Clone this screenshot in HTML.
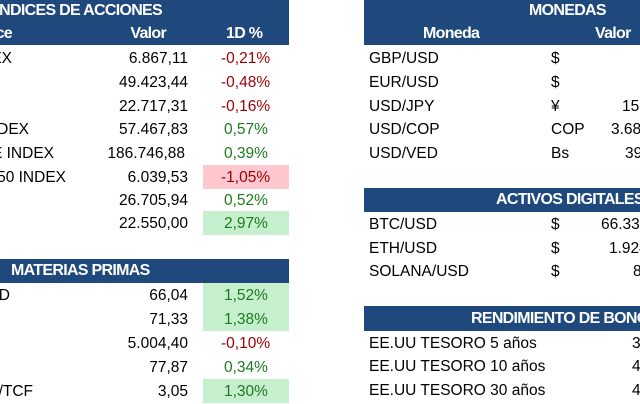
<!DOCTYPE html>
<html><head><meta charset="utf-8"><style>
html,body{margin:0;padding:0;width:640px;height:404px;overflow:hidden;background:#fff;position:relative}
*{box-sizing:border-box}
.t{position:absolute;font-family:"Liberation Sans",sans-serif;font-size:15.5px;color:#000;white-space:nowrap;line-height:24px;height:24px}
.h{position:absolute;background:#1f497d}
.hb{position:absolute;font-family:"Liberation Sans",sans-serif;font-weight:bold;font-size:16px;color:#fff;white-space:nowrap;line-height:22px;letter-spacing:-0.7px}
.r{color:#9c0006}.g{color:#1e7a1e}
.pk{position:absolute;background:#ffc7ce}.gr{position:absolute;background:#c6efce}
</style></head><body>
<div class="h" style="left:0;top:0;width:289px;height:45px"></div>
<div class="hb" style="right:478px;top:0">ÍNDICES DE ACCIONES</div>
<div class="hb" style="right:628px;top:23px">Índice</div>
<div class="hb" style="right:474px;top:23px">Valor</div>
<div class="hb" style="left:226px;top:23px">1D %</div>

<div class="pk" style="left:203px;top:165px;width:86px;height:24px"></div>
<div class="gr" style="left:203px;top:211px;width:86px;height:24px"></div>

<div class="t" style="right:628px;top:47px">CAC 40 INDEX</div>
<div class="t" style="right:452px;top:47px">6.867,11</div>
<div class="t r" style="left:221px;top:47px">-0,21%</div>
<div class="t" style="right:452px;top:71px">49.423,44</div>
<div class="t r" style="left:221px;top:71px">-0,48%</div>
<div class="t" style="right:452px;top:95px">22.717,31</div>
<div class="t r" style="left:221px;top:95px">-0,16%</div>
<div class="t" style="right:611px;top:118px">FTSE INDEX</div>
<div class="t" style="right:452px;top:118px">57.467,83</div>
<div class="t g" style="left:224px;top:118px">0,57%</div>
<div class="t" style="right:586px;top:142px">MERVAL ARGE INDEX</div>
<div class="t" style="right:455px;top:142px">186.746,88</div>
<div class="t g" style="left:224px;top:142px">0,39%</div>
<div class="t" style="right:574px;top:166px">STOXX 50 INDEX</div>
<div class="t" style="right:452px;top:166px">6.039,53</div>
<div class="t r" style="left:221px;top:166px">-1,05%</div>
<div class="t" style="right:452px;top:189px">26.705,94</div>
<div class="t g" style="left:224px;top:189px">0,52%</div>
<div class="t" style="right:452px;top:212px">22.550,00</div>
<div class="t g" style="left:224px;top:212px">2,97%</div>

<div class="h" style="left:0;top:259px;width:289px;height:24px"></div>
<div class="hb" style="left:11px;top:260px">MATERIAS PRIMAS</div>
<div class="gr" style="left:203px;top:283px;width:86px;height:48px"></div>
<div class="gr" style="left:203px;top:379px;width:86px;height:24px"></div>
<div class="t" style="right:630px;top:284px">WTI USD</div>
<div class="t" style="right:452px;top:284px">66,04</div>
<div class="t g" style="left:224px;top:284px">1,52%</div>
<div class="t" style="right:452px;top:308px">71,33</div>
<div class="t g" style="left:224px;top:308px">1,38%</div>
<div class="t" style="right:452px;top:332px">5.004,40</div>
<div class="t r" style="left:221px;top:332px">-0,10%</div>
<div class="t" style="right:452px;top:356px">77,87</div>
<div class="t g" style="left:224px;top:356px">0,34%</div>
<div class="t" style="right:607px;top:380px">GAS NATURAL/TCF</div>
<div class="t" style="right:452px;top:380px">3,05</div>
<div class="t g" style="left:224px;top:380px">1,30%</div>

<div class="h" style="left:364px;top:0;width:276px;height:45px"></div>
<div class="hb" style="left:529px;top:0">MONEDAS</div>
<div class="hb" style="left:423px;top:23px">Moneda</div>
<div class="hb" style="left:595px;top:23px">Valor</div>
<div class="t" style="left:369px;top:47px">GBP/USD</div><div class="t" style="left:551px;top:47px">$</div>
<div class="t" style="left:369px;top:71px">EUR/USD</div><div class="t" style="left:551px;top:71px">$</div>
<div class="t" style="left:369px;top:95px">USD/JPY</div><div class="t" style="left:551px;top:95px">¥</div><div class="t" style="left:622px;top:95px">151,2</div>
<div class="t" style="left:369px;top:118px">USD/COP</div><div class="t" style="left:551px;top:118px">COP</div><div class="t" style="left:611px;top:118px">3.685</div>
<div class="t" style="left:369px;top:142px">USD/VED</div><div class="t" style="left:551px;top:142px">Bs</div><div class="t" style="left:625px;top:142px">39,2</div>

<div class="h" style="left:364px;top:188px;width:276px;height:24px"></div>
<div class="hb" style="left:496px;top:189px">ACTIVOS DIGITALES</div>
<div class="t" style="left:369px;top:213px">BTC/USD</div><div class="t" style="left:551px;top:213px">$</div><div class="t" style="left:601px;top:213px">66.337</div>
<div class="t" style="left:369px;top:237px">ETH/USD</div><div class="t" style="left:551px;top:237px">$</div><div class="t" style="left:609px;top:237px">1.924</div>
<div class="t" style="left:369px;top:260px">SOLANA/USD</div><div class="t" style="left:551px;top:260px">$</div><div class="t" style="left:633px;top:260px">85</div>

<div class="h" style="left:364px;top:306px;width:276px;height:25px"></div>
<div class="hb" style="left:471px;top:308px">RENDIMIENTO DE BONOS</div>
<div class="t" style="left:369px;top:332px">EE.UU TESORO 5 años</div><div class="t" style="left:632px;top:332px">3,9</div>
<div class="t" style="left:369px;top:355px">EE.UU TESORO 10 años</div><div class="t" style="left:632px;top:355px">4,1</div>
<div class="t" style="left:369px;top:379px">EE.UU TESORO 30 años</div><div class="t" style="left:632px;top:379px">4,5</div>
</body></html>
